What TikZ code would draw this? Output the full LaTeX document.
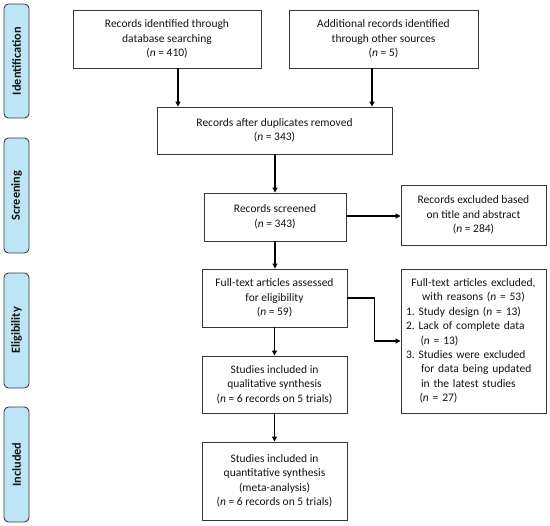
\documentclass[tikz,border=0pt]{standalone}
\usepackage{fontspec}
\setmainfont{Carlito}
\usetikzlibrary{arrows.meta}
\definecolor{lblfill}{RGB}{190,229,246}
\definecolor{lbldraw}{RGB}{60,60,70}
\definecolor{boxdraw}{RGB}{55,55,55}
\definecolor{txt}{RGB}{20,20,20}
\frenchspacing
\begin{document}
\begin{tikzpicture}[x=1pt,y=-1pt,
  box/.style={draw=boxdraw,line width=0.9pt,fill=white,align=center,inner sep=0pt,text=txt,
    font=\fontsize{11.5}{14.4}\selectfont},
  lbl/.style={draw=lbldraw,line width=0.9pt,fill=lblfill,rounded corners=4.5pt,minimum width=25pt,minimum height=115pt,inner sep=0pt},
  lbltext/.style={rotate=90,font=\fontsize{12.3}{14}\selectfont\bfseries,text=txt},
  arr/.style={line width=1.1pt,-{Triangle[length=5pt,width=5pt]}}]
\useasboundingbox (0,0) rectangle (550,526);
% stage labels
\node[lbl,minimum height=114pt] (l1) at (16.5,61) {};
\node[lbltext] (l1t) at (l1.center) {Identification};
\node[lbl] (l2) at (16.5,195.5) {};
\node[lbltext] (l2t) at (l2.center) {Screening};
\node[lbl] (l3) at (16.5,330.5) {};
\node[lbltext] (l3t) at (l3.center) {Eligibility};
\node[lbl] (l4) at (16.5,464.5) {};
\node[lbltext] (l4t) at (l4.center) {Included};
% boxes
\node[box,minimum width=188pt,minimum height=58pt] (b1) at (167,39) {Records identified through\\ database searching\\ (\textit{n} = 410)};
\node[box,minimum width=189pt,minimum height=58pt] (b2) at (383.5,39) {Additional records identified\\ through other sources\\ (\textit{n} = 5)};
\node[box,minimum width=235pt,minimum height=47pt] (b3) at (274.5,130.5) {Records after duplicates removed\\ (\textit{n} = 343)};
\node[box,minimum width=142pt,minimum height=48pt] (b4) at (275,217) {Records screened\\ (\textit{n} = 343)};
\node[box,minimum width=145pt,minimum height=60pt] (b5) at (473.5,215) {Records excluded based\\ on title and abstract\\ (\textit{n} = 284)};
\node[box,minimum width=145pt,minimum height=58pt] (b6) at (274.5,298) {Full-text articles assessed\\ for eligibility\\ (\textit{n} = 59)};
\node[box,minimum width=145pt,minimum height=144pt,text width=135pt,align=left] (b7) at (473.5,341) {{\centering Full-text articles excluded,\\ with reasons (\textit{n} = 53)\par}
1. Study design (\textit{n} = 13)\\
2. Lack of complete data\\
\hspace*{14.5pt}(\textit{n} = 13)\\
3. Studies were excluded\\
\hspace*{15pt}for data being updated\\
\hspace*{15pt}in the latest studies\\
\hspace*{13.5pt}(\textit{n} = 27)};
\node[box,minimum width=145pt,minimum height=57pt] (b8) at (274.5,384.5) {Studies included in\\ qualitative synthesis\\ (\textit{n} = 6 records on 5 trials)};
\node[box,minimum width=145pt,minimum height=78pt] (b9) at (274.5,481) {Studies included in\\ quantitative synthesis\\ (meta-analysis)\\ (\textit{n} = 6 records on 5 trials)};
% connectors
\draw[arr] ([xshift=11pt]b1.south) -- ([xshift=11pt]b1.south |- b3.north);
\draw[arr] ([xshift=-11.5pt]b2.south) -- ([xshift=-11.5pt]b2.south |- b3.north);
\draw[arr] (b3.south -| b4.north) -- (b4.north);
\draw[arr] (b4.east |- 0,216) -- (b5.west |- 0,216);
\draw[arr] (b4.south) -- (b4.south |- b6.north);
\draw[arr] (b6.east) -- ++(27,0) |- (b7.west);
\draw[arr] (b6.south) -- (b8.north);
\draw[arr] (b8.south) -- (b9.north);
\end{tikzpicture}
\end{document}
